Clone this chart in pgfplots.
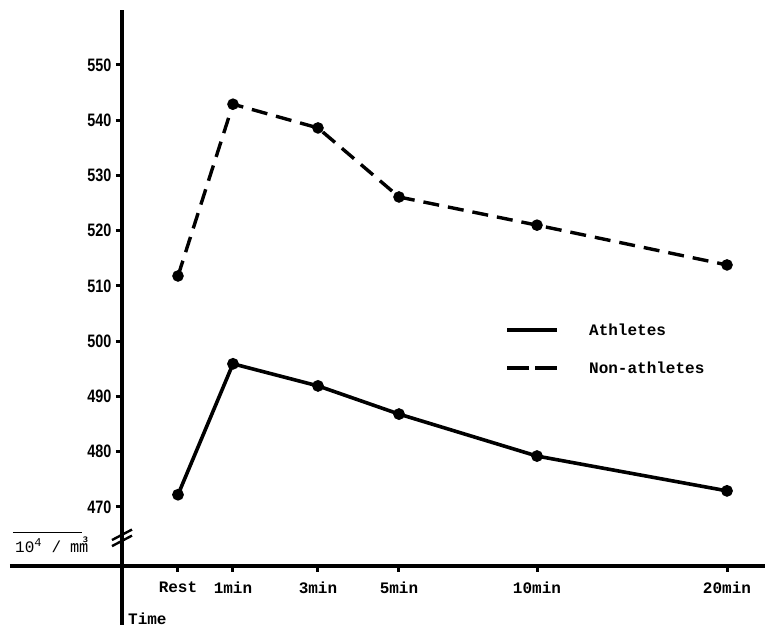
\documentclass[border=0pt]{standalone}
\usepackage{pgfplots}
\pgfplotsset{compat=1.18}
\usepackage{fontspec}
\setmainfont{Liberation Serif}
\newfontfamily\monofont{Liberation Mono}
\newfontfamily\narrowfont[FakeStretch=0.8]{Liberation Sans}
\newfontfamily\cjk{Noto Sans CJK SC}
\begin{document}
\begin{tikzpicture}
\begin{axis}[
  scale only axis, width=643pt, height=556pt,
  xmin=0, xmax=643, ymin=459.3, ymax=559.95,
  axis lines=left, axis line style={line width=3.2pt, -},
  clip=false,
  xtick={56,111,196,277,415,605},
  xticklabels={Rest,1min,3min,5min,10min,20min},
  ytick={470,480,490,500,510,520,530,540,550},
  tick style={black, line width=3pt},
  major tick length=6pt,
  tick align=outside,
  /pgf/number format/assume math mode=true,
  yticklabel style={font=\narrowfont\bfseries\fontsize{18}{18}\selectfont, xshift=-1pt},
  xticklabel style={font=\monofont\bfseries\fontsize{16}{16}\selectfont, yshift=-6pt},
  legend style={draw=none, fill=none, at={(axis cs:383,503.6)}, anchor=north west,
    font=\monofont\bfseries\fontsize{16}{16}\selectfont, row sep=21pt, inner sep=0pt,
    /tikz/every odd column/.append style={column sep=28pt}},
  legend cell align=left,
  legend image code/.code={\draw[#1] (0pt,0pt) -- (50pt,0pt);},
]
\addplot[black, line width=3.6pt, mark=*, mark size=4pt]
  coordinates {(56,472.2) (111,495.9) (196,491.9) (277,486.8) (415,479.2) (605,472.9)};
\addlegendentry{Athletes}
\addplot[black, line width=3.4pt, dash pattern=on 16pt off 9pt, mark=*, mark size=4pt, mark options={solid},
  legend image code/.code={\draw[black, line width=4pt, dash pattern=on 22pt off 6pt] (0pt,0pt) -- (50pt,0pt);}]
  coordinates {(56,511.8) (111,542.9) (196,538.6) (277,526.1) (415,521.0) (605,513.8)};
\addlegendentry{Non-athletes}
% extended axis lines
\draw[line width=3.2pt] (axis cs:-112,459.3) -- (axis cs:0,459.3);
\draw[line width=3.2pt] (axis cs:0,459.3) -- (axis cs:0,448.6);
% axis break
\draw[line width=2.4pt] (axis cs:-10,462.9) -- (axis cs:10,464.8);
\draw[line width=2.4pt] (axis cs:-10,464.0) -- (axis cs:10,465.9);
% unit label
\draw[line width=1.2pt] (axis cs:-109,465.4) -- (axis cs:-40,465.4);
\node[anchor=base west, inner sep=0pt, font=\monofont\fontsize{16}{16}\selectfont] at (axis cs:-107,461.7) {10\textsuperscript{\fontsize{12}{12}\selectfont 4} / {\cjk\fontsize{18}{18}\selectfont ㎣}};
\node[anchor=west, inner sep=0pt, font=\monofont\bfseries\fontsize{16}{16}\selectfont] at (axis cs:6,449.7) {Time};
\path (axis cs:-122,447.92) rectangle (axis cs:650,561.76);
\end{axis}
\end{tikzpicture}
\end{document}
